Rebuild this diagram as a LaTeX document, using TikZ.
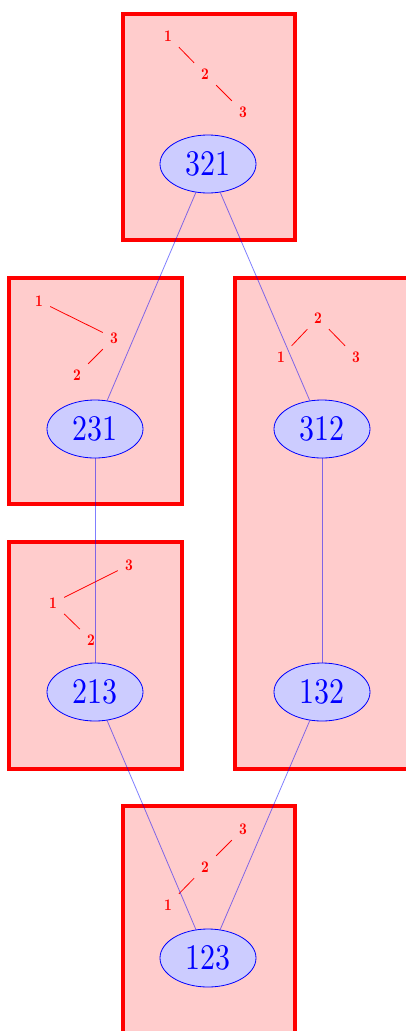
\documentclass[tikz,border=0pt]{standalone}
\usetikzlibrary{shapes.geometric}
\newcommand\permtxt[1]{\scalebox{3}[3.6]{\fontsize{10}{12}\selectfont #1}}
\newcommand\lbltxt[1]{\scalebox{1.35}[1.62]{\fontsize{10}{12}\selectfont\bfseries #1}}
\begin{document}
\begin{tikzpicture}[x=1pt,y=-1pt,
  box/.style={draw=red, fill=red!20, line width=4pt},
  perm/.style={ellipse, draw=blue, fill=blue!20, text=blue, line width=0.8pt,
    minimum width=96pt, minimum height=58pt, inner sep=0pt},
  lbl/.style={text=red, minimum width=22pt, minimum height=22pt, inner sep=0pt},
  tedge/.style={draw=red, line width=0.8pt},
  cover/.style={draw=blue, opacity=0.5, line width=0.8pt}]
\useasboundingbox (0,0) rectangle (405,1031);

% boxes
\draw[box] (122.5,13.5) rectangle (295,240);
\draw[box] (9,278) rectangle (182,504);
\draw[box] (235,278) rectangle (409,768.5);
\draw[box] (9,542) rectangle (182,768.5);
\draw[box] (122.5,806) rectangle (295,1036);

% permutation nodes
\node[perm] (p321) at (208,164) {\permtxt{321}};
\node[perm] (p231) at (95,429) {\permtxt{231}};
\node[perm] (p312) at (322,429) {\permtxt{312}};
\node[perm] (p213) at (95,692) {\permtxt{213}};
\node[perm] (p132) at (322,692) {\permtxt{132}};
\node[perm] (p123) at (208,958) {\permtxt{123}};

% trees
% 321
\node[lbl] (a1) at (168,36) {\lbltxt{1}};
\node[lbl] (a2) at (205,74) {\lbltxt{2}};
\node[lbl] (a3) at (243,112) {\lbltxt{3}};
\draw[tedge] (a1) -- (a2);
\draw[tedge] (a2) -- (a3);
% 231
\node[lbl] (b1) at (39,301) {\lbltxt{1}};
\node[lbl] (b3) at (114,338) {\lbltxt{3}};
\node[lbl] (b2) at (77,375) {\lbltxt{2}};
\draw[tedge] (b1) -- (b3);
\draw[tedge] (b3) -- (b2);
% 312
\node[lbl] (c2) at (318,318) {\lbltxt{2}};
\node[lbl] (c1) at (281,357) {\lbltxt{1}};
\node[lbl] (c3) at (356,357) {\lbltxt{3}};
\draw[tedge] (c2) -- (c1);
\draw[tedge] (c2) -- (c3);
% 213
\node[lbl] (d3) at (129,565) {\lbltxt{3}};
\node[lbl] (d1) at (53,603) {\lbltxt{1}};
\node[lbl] (d2) at (91,640) {\lbltxt{2}};
\draw[tedge] (d3) -- (d1);
\draw[tedge] (d1) -- (d2);
% 123
\node[lbl] (e3) at (243,829) {\lbltxt{3}};
\node[lbl] (e2) at (205,867) {\lbltxt{2}};
\node[lbl] (e1) at (168,905) {\lbltxt{1}};
\draw[tedge] (e3) -- (e2);
\draw[tedge] (e2) -- (e1);

% cover relations
\draw[cover] (p321) -- (p231);
\draw[cover] (p321) -- (p312);
\draw[cover] (p231) -- (p213);
\draw[cover] (p312) -- (p132);
\draw[cover] (p213) -- (p123);
\draw[cover] (p132) -- (p123);
\end{tikzpicture}
\end{document}
